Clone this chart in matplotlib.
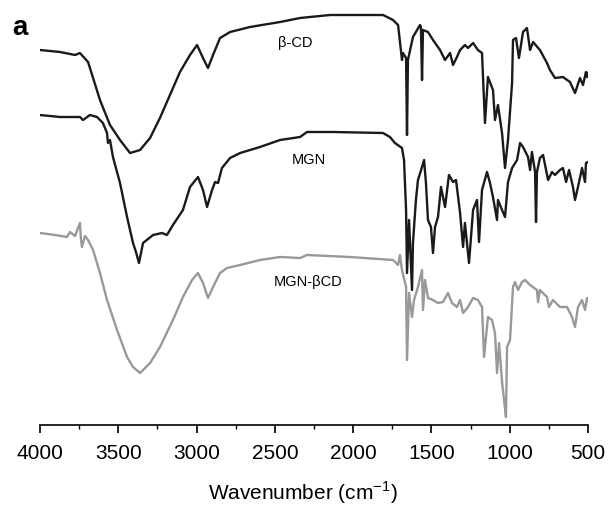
import numpy as np
import matplotlib
matplotlib.use("Agg")
import matplotlib.pyplot as plt
from matplotlib.ticker import MultipleLocator

plt.rcParams['font.family'] = ['Liberation Sans', 'DejaVu Sans']
plt.rcParams['mathtext.fontset'] = 'custom'
plt.rcParams['mathtext.rm'] = 'Liberation Sans'

# FTIR spectra, offset intensity (a.u.) vs wavenumber (cm-1)
bcd_wn = [4000, 3872, 3776, 3745, 3693, 3617, 3553, 3489, 3425, 3361, 3297, 3234,
          3170, 3106, 3042, 2997, 2953, 2927, 2895, 2850, 2786, 2659, 2467, 2339,
          2148, 1809, 1745, 1713, 1688, 1682, 1662, 1656, 1650, 1618, 1573, 1567,
          1560, 1554, 1522, 1490, 1445, 1413, 1381, 1362, 1337, 1317, 1286, 1266,
          1234, 1203, 1177, 1158, 1139, 1107, 1094, 1075, 1049, 1030, 1011, 985,
          979, 960, 941, 915, 890, 870, 851, 807, 762, 743, 711, 660, 615, 583,
          551, 532, 513, 506, 500]
bcd_val = [375, 373, 370, 372, 363, 325, 300, 285, 272, 275, 287, 307,
           330, 353, 370, 380, 365, 357, 370, 387, 393, 398, 403, 407,
           410, 410, 405, 400, 365, 372, 367, 290, 365, 388, 400, 398,
           345, 395, 393, 385, 375, 365, 372, 360, 368, 375, 380, 377,
           382, 375, 372, 302, 348, 335, 305, 320, 292, 257, 285, 342,
           385, 387, 367, 393, 397, 375, 383, 375, 362, 355, 347, 348, 343, 332,
           347, 340, 353, 348, 352]

mgn_wn = [4000, 3872, 3745, 3725, 3681, 3636, 3598, 3572, 3566, 3553, 3534, 3489,
          3444, 3406, 3387, 3368, 3342, 3278, 3221, 3189, 3151, 3087, 3042, 2991,
          2959, 2933, 2901, 2882, 2863, 2838, 2786, 2722, 2595, 2467, 2339, 2295,
          2129, 1809, 1765, 1733, 1688, 1675, 1662, 1656, 1643, 1624, 1618, 1599,
          1586, 1560, 1547, 1535, 1522, 1503, 1490, 1477, 1458, 1439, 1413, 1388,
          1362, 1343, 1317, 1298, 1286, 1260, 1234, 1209, 1196, 1177, 1145, 1126,
          1107, 1081, 1075, 1049, 1030, 1011, 985, 953, 934, 915, 883, 870, 858,
          838, 832, 826, 807, 787, 755, 730, 711, 679, 660, 640, 621, 596, 583,
          564, 538, 519, 513, 500]
mgn_val = [310, 308, 308, 305, 310, 308, 302, 292, 282, 285, 268, 242,
           208, 182, 173, 162, 182, 190, 192, 190, 200, 215, 238, 248,
           235, 218, 235, 243, 242, 257, 267, 272, 278, 285, 288, 293,
           293, 292, 288, 282, 277, 265, 215, 152, 205, 135, 182, 225,
           245, 258, 265, 242, 205, 198, 172, 198, 208, 238, 218, 250,
           243, 245, 212, 178, 202, 162, 215, 225, 183, 235, 253, 242,
           228, 205, 225, 215, 208, 243, 257, 265, 282, 278, 268, 255, 273,
           253, 203, 253, 267, 270, 245, 253, 250, 255, 257, 243, 255, 238, 225,
           238, 257, 243, 262, 263]

inc_wn = [4000, 3904, 3828, 3808, 3776, 3745, 3738, 3732, 3713, 3693, 3661, 3617,
          3572, 3508, 3444, 3406, 3361, 3297, 3234, 3151, 3087, 3029, 2991, 2959,
          2927, 2895, 2850, 2806, 2722, 2595, 2467, 2339, 2295, 2020, 1745, 1713,
          1701, 1688, 1662, 1656, 1643, 1624, 1611, 1586, 1560, 1554, 1541, 1522,
          1490, 1458, 1426, 1394, 1369, 1337, 1317, 1298, 1266, 1234, 1203, 1177,
          1164, 1139, 1113, 1094, 1081, 1068, 1049, 1036, 1024, 1017, 998, 979,
          966, 947, 922, 902, 870, 826, 819, 807, 762, 749, 724, 679, 634, 602,
          583, 564, 538, 519, 506, 500]
inc_val = [192, 190, 188, 193, 189, 202, 185, 178, 189, 185, 175, 152,
           125, 95, 68, 58, 52, 62, 78, 105, 128, 145, 152, 142,
           127, 138, 152, 157, 160, 165, 168, 167, 170, 168, 165, 160,
           170, 155, 138, 65, 132, 108, 125, 138, 155, 115, 145, 127,
           125, 122, 123, 132, 122, 118, 125, 112, 118, 127, 125, 118,
           68, 108, 105, 92, 52, 82, 43, 25, 8, 78, 85, 138,
           143, 135, 143, 145, 140, 135, 123, 135, 128, 118, 125, 118, 118, 108,
           98, 118, 125, 115, 127, 125]

labels = ['β-CD', 'MGN', 'MGN-βCD']

fig = plt.figure(figsize=(6.14, 5.08), dpi=100)
ax = fig.add_axes([40 / 614, 83 / 508, 548 / 614, 420 / 508])

ax.plot(bcd_wn, bcd_val, color='#1a1a1a', lw=1.7)
ax.plot(mgn_wn, mgn_val, color='#1a1a1a', lw=1.7)
ax.plot(inc_wn, inc_val, color='#999999', lw=1.7)

ax.set_xlim(4000, 500)
ax.set_ylim(0, 420)

for s in ['top', 'right', 'left']:
    ax.spines[s].set_visible(False)
ax.spines['bottom'].set_linewidth(1.2)
ax.set_yticks([])
ax.xaxis.set_major_locator(MultipleLocator(500))
ax.xaxis.set_minor_locator(MultipleLocator(250))
ax.tick_params(axis='x', which='major', direction='out', length=6, width=1.2,
               labelsize=15, pad=8)
ax.tick_params(axis='x', which='minor', direction='out', length=3, width=1.0)

# curve labels
ax.text(2370, 382, labels[0], fontsize=10.5, ha='center', va='center')
ax.text(2280, 265, labels[1], fontsize=10.5, ha='center', va='center')
ax.text(2290, 143, labels[2], fontsize=10.5, ha='center', va='center')

fig.text(303 / 614, 1 - 493 / 508, r'Wavenumber (cm$^{-1}$)', fontsize=15,
         ha='center', va='center')
fig.text(12 / 614, 1 - 35 / 508, 'a', fontsize=20, fontweight='bold',
         ha='left', va='baseline')

plt.savefig('out.png', dpi=100)
